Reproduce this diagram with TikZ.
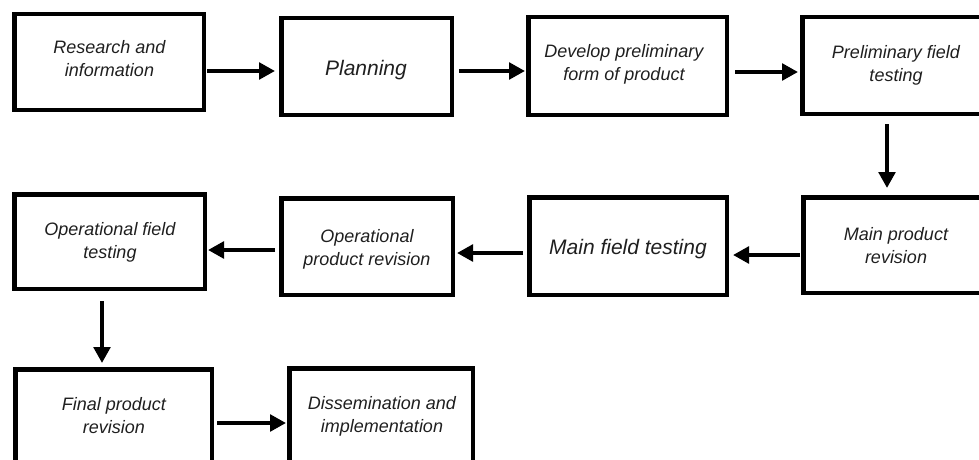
\documentclass[tikz,border=0pt]{standalone}
\usepackage{fontspec}
\setmainfont{Liberation Sans}
\usetikzlibrary{arrows.meta}
\begin{document}
\begin{tikzpicture}[x=1pt,y=-1pt,
  box/.style={draw, line width=4.5pt, rectangle, inner sep=0pt},
  txt/.style={font=\itshape\fontsize{18}{23}\selectfont, align=center, inner sep=0pt, text=black!88},
  bigtxt/.style={font=\itshape\fontsize{21}{25}\selectfont, inner sep=0pt, anchor=base, text=black!88},
  arr/.style={line width=4pt, -{Triangle[length=16pt,width=16.5pt]}}]
\useasboundingbox (0,0) rectangle (979,460);
\clip (0,0) rectangle (979,460);
% boxes
\node[box, minimum width=189.5pt, minimum height=95.5pt] (b1) at (109,62) {};
\node[box, minimum width=170.5pt, minimum height=96.5pt] (b2) at (366.5,66.5) {};
\node[box, minimum width=198.5pt, minimum height=97.5pt] (b3) at (627.5,66) {};
\node[box, minimum width=185.5pt, minimum height=96.5pt] (b4) at (895,65.5) {};
\node[box, minimum width=190.5pt, minimum height=94.5pt] (b5) at (109.5,241.5) {};
\node[box, minimum width=171.5pt, minimum height=96.5pt] (b6) at (367,246.5) {};
\node[box, minimum width=197.5pt, minimum height=97.5pt] (b7) at (628,246) {};
\node[box, minimum width=184.5pt, minimum height=95.5pt] (b8) at (895.5,245) {};
\node[box, minimum width=196.5pt, minimum height=108.5pt] (b9) at (113.5,423.5) {};
\node[box, minimum width=183.5pt, minimum height=109.5pt] (b10) at (381,423) {};
% texts
\node[txt] (t1) at (109.5,58.5) {Research and\\information};
\node[bigtxt] (t2) at (366,75) {Planning};
\node[txt] (t3) at (624,64.5) {Develop preliminary\\form of product};
\node[txt] (t4) at (896,65) {Preliminary field\\testing};
\node[txt] (t5) at (110,242) {Operational field\\testing};
\node[txt] (t6) at (367,249) {Operational\\product revision};
\node[bigtxt] (t7) at (628,254) {Main field testing};
\node[txt] (t8) at (896,245.5) {Main product\\revision};
\node[txt] (t9) at (114,416) {Final product\\revision};
\node[txt] (t10) at (382,416) {Dissemination and\\implementation};
% arrows
\draw[arr, shorten <=1pt, shorten >=4pt] (b1.east |- 0,71) -- (b2.west |- 0,71);
\draw[arr, shorten <=5pt, shorten >=1pt] (b2.east |- 0,71) -- (b3.west |- 0,71);
\draw[arr, shorten <=6pt, shorten >=2pt] (b3.east |- 0,72) -- (b4.west |- 0,72);
\draw[arr, shorten <=8pt, shorten >=7pt] (b4.south -| 887,0) -- (b8.north -| 887,0);
\draw[arr, shorten <=1pt, shorten >=4pt] (b8.west |- 0,255) -- (b7.east |- 0,255);
\draw[arr, shorten <=4pt, shorten >=2pt] (b7.west |- 0,253) -- (b6.east |- 0,253);
\draw[arr, shorten <=4pt, shorten >=1pt] (b6.west |- 0,250) -- (b5.east |- 0,250);
\draw[arr, shorten <=10pt, shorten >=4pt] (b5.south -| 102,0) -- (b9.north -| 102,0);
\draw[arr, shorten <=3pt, shorten >=1pt] (b9.east |- 0,423) -- (b10.west |- 0,423);
\end{tikzpicture}
\end{document}
